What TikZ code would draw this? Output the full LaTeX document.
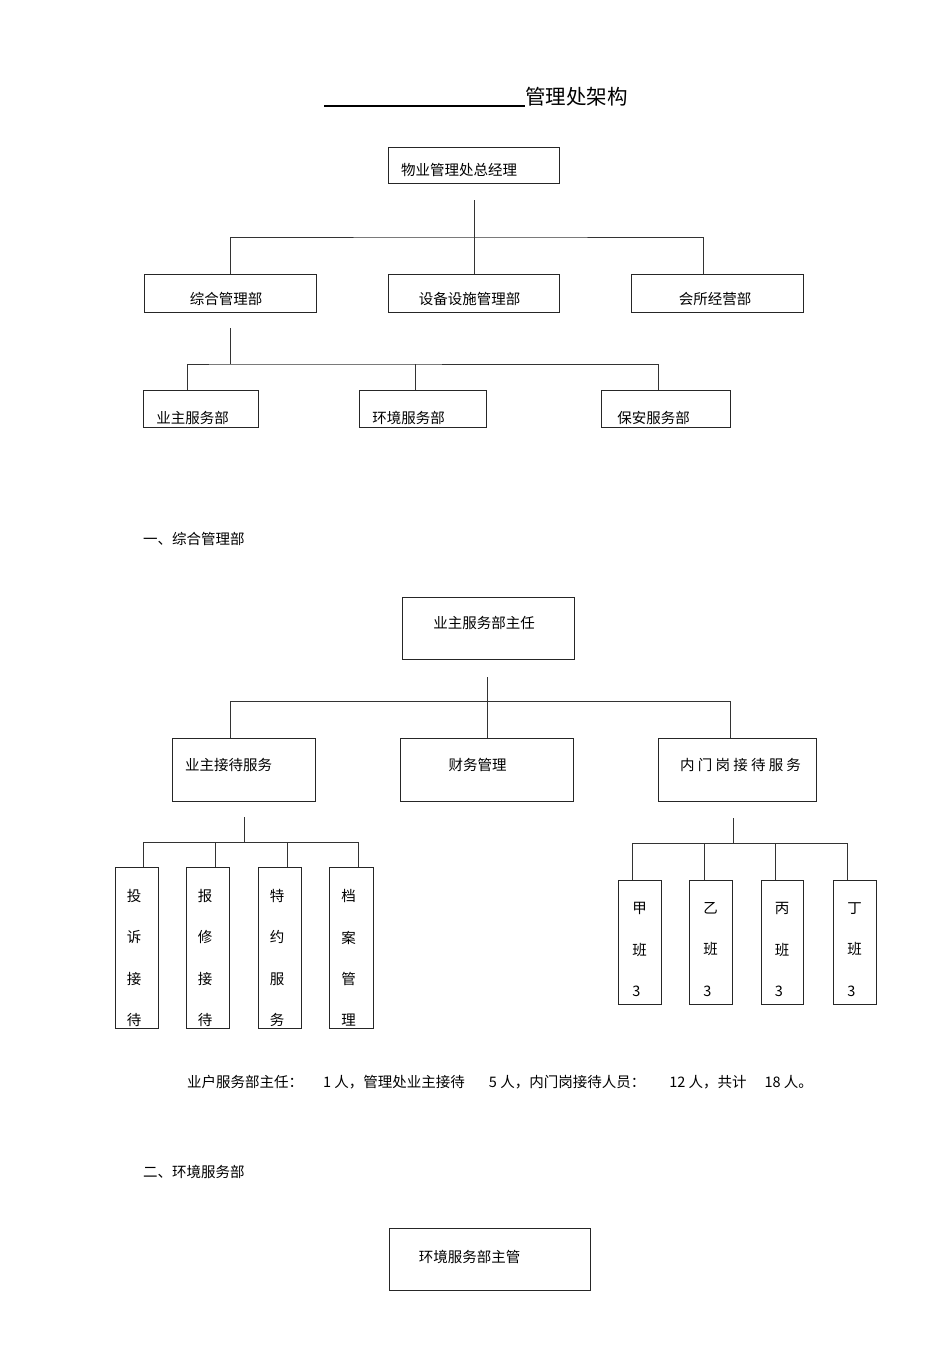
\documentclass[tikz,border=0pt]{standalone}
\usepackage{fontspec}
\setmainfont{Noto Sans CJK SC}
\usepackage{tikz}
\usetikzlibrary{positioning}
\tikzset{
  box/.style={draw=black!85, line width=0.9pt, inner sep=0pt},
  txt/.style={font=\fontsize{14.5}{17}\selectfont, inner sep=0pt},
  tall/.style={txt, align=left, font=\fontsize{14.5}{41.2}\selectfont},
  link/.style={draw=black!80, line width=1pt},
}

\begin{document}
\begin{tikzpicture}[x=1pt,y=-1pt]
    \useasboundingbox[fill=white] (0,0) rectangle (950,1345);
    % title
    \node[txt, font=\fontsize{20.5}{24}\selectfont, anchor=base west] (title) at (324,104)
      {\rule[-2.5pt]{201pt}{2pt}管理处架构};
    % top level chart
    \node[box, minimum width=171, minimum height=36,
          label={[txt,name=gm-t,xshift=-15pt,yshift=-5pt]center:物业管理处总经理}] (gm) at (474,165) {};
    \node[box, minimum width=172, minimum height=38,
          label={[txt,name=zh-t,xshift=-4pt,yshift=-6pt]center:综合管理部}] (zh) at (230,293) {};
    \node[box, minimum width=171, minimum height=38,
          label={[txt,name=sb-t,xshift=-4pt,yshift=-6pt]center:设备设施管理部}] (sb) at (473.5,293) {};
    \node[box, minimum width=172, minimum height=38,
          label={[txt,name=hs-t,xshift=-2pt,yshift=-6pt]center:会所经营部}] (hs) at (717,293) {};
    \node[box, minimum width=115, minimum height=37,
          label={[txt,name=ye-t,xshift=-8pt,yshift=-9pt]center:业主服务部}] (ye) at (200.5,408.5) {};
    \node[box, minimum width=127, minimum height=37,
          label={[txt,name=hj-t,xshift=-14pt,yshift=-9pt]center:环境服务部}] (hj) at (422.5,408.5) {};
    \node[box, minimum width=129, minimum height=37,
          label={[txt,name=ba-t,xshift=-12pt,yshift=-9pt]center:保安服务部}] (ba) at (665.5,408.5) {};
    \coordinate (gm-s) at (474,200);
    \coordinate (gm-b) at (474,237);
    \draw[link] (gm-s) -- (gm-s |- sb.north);
    \draw[link] (zh.north) |- (gm-b) -| ([xshift=-14pt]hs.north);
    \coordinate (zh-s) at (230,328);
    \coordinate (zh-b) at (230,364);
    \draw[link] (zh-s) -- (zh-b);
    \draw[link] ([xshift=-13.5pt]ye.north) |- (zh-b) -| ([xshift=-7.5pt]ba.north);
    \draw[link] ([xshift=-7pt]hj.north) -- ([xshift=-7pt]hj.north |- zh-b);

    \node[txt, anchor=base west] (sec1) at (143,544.5) {一、综合管理部};

    % owner service department
    \node[box, minimum width=172, minimum height=62,
          label={[txt,name=zz-t,xshift=-4pt,yshift=5pt]center:业主服务部主任}] (zz) at (488,628) {};
    \node[box, minimum width=143, minimum height=63,
          label={[txt,name=zj-t,xshift=-15pt,yshift=4.5pt]center:业主接待服务}] (zj) at (243.5,769.5) {};
    \node[box, minimum width=173, minimum height=63,
          label={[txt,name=cw-t,xshift=-9pt,yshift=4.5pt]center:财务管理}] (cw) at (486.5,769.5) {};
    \node[box, minimum width=158, minimum height=63,
          label={[txt,name=nm-t,xshift=3.5pt,yshift=4.5pt]center:内 门 岗 接 待 服 务}] (nm) at (737,769.5) {};
    \coordinate (zz-s) at (487,677);
    \coordinate (zz-b) at (487,701);
    \draw[link] (zz-s) -- (zz-s |- cw.north);
    \draw[link] ([xshift=-13.5pt]zj.north) |- (zz-b) -| ([xshift=-7pt]nm.north);

    \node[box, minimum width=43, minimum height=161,
          label={[tall,name=t1-t,xshift=-2.5pt,yshift=-10.5pt]center:{投\\诉\\接\\待}}] (t1) at (136.5,947.5) {};
    \node[box, minimum width=43, minimum height=161,
          label={[tall,name=t2-t,xshift=-2.5pt,yshift=-10.5pt]center:{报\\修\\接\\待}}] (t2) at (207.5,947.5) {};
    \node[box, minimum width=43, minimum height=161,
          label={[tall,name=t3-t,xshift=-2.5pt,yshift=-10.5pt]center:{特\\约\\服\\务}}] (t3) at (279.5,947.5) {};
    \node[box, minimum width=44, minimum height=161,
          label={[tall,name=t4-t,xshift=-2.5pt,yshift=-10.5pt]center:{档\\案\\管\\理}}] (t4) at (351,947.5) {};
    \coordinate (zj-s) at (244,817);
    \coordinate (zj-b) at (244,842);
    \draw[link] (zj-s) -- (zj-b);
    \draw[link] ([xshift=6.5pt]t1.north) |- (zj-b) -| ([xshift=7pt]t4.north);
    \draw[link] ([xshift=7.5pt]t2.north) -- ([xshift=7.5pt]t2.north |- zj-b);
    \draw[link] ([xshift=7.5pt]t3.north) -- ([xshift=7.5pt]t3.north |- zj-b);

    \node[box, minimum width=43, minimum height=124,
          label={[tall,name=b1-t,yshift=-7.5pt]center:{甲\\班\\3}}] (b1) at (639.5,942) {};
    \node[box, minimum width=43, minimum height=124,
          label={[tall,name=b2-t,yshift=-7.5pt]center:{乙\\班\\3}}] (b2) at (710.5,942) {};
    \node[box, minimum width=42, minimum height=124,
          label={[tall,name=b3-t,yshift=-7.5pt]center:{丙\\班\\3}}] (b3) at (782,942) {};
    \node[box, minimum width=43, minimum height=124,
          label={[tall,name=b4-t,yshift=-7.5pt]center:{丁\\班\\3}}] (b4) at (854.5,942) {};
    \coordinate (nm-s) at (733,818);
    \coordinate (nm-b) at (733,843);
    \draw[link] (nm-s) -- (nm-b);
    \draw[link] ([xshift=-7.5pt]b1.north) |- (nm-b) -| ([xshift=-7.5pt]b4.north);
    \draw[link] ([xshift=-6.5pt]b2.north) -- ([xshift=-6.5pt]b2.north |- nm-b);
    \draw[link] ([xshift=-7pt]b3.north) -- ([xshift=-7pt]b3.north |- nm-b);

    \node[txt, anchor=base west] (sum) at (187,1087.5)
      {业户服务部主任：\hspace{20pt}1 人，管理处业主接待\hspace{24pt}5 人，内门岗接待人员：\hspace{24pt}12 人，共计\hspace{18pt}18 人。};

    % environment service department
    \node[txt, anchor=base west] (sec2) at (143,1177.5) {二、环境服务部};
    \node[box, minimum width=201, minimum height=62,
          label={[txt,name=hz-t,xshift=-20pt,yshift=2pt]center:环境服务部主管}] (hz) at (489.5,1259) {};
\end{tikzpicture}
\end{document}
